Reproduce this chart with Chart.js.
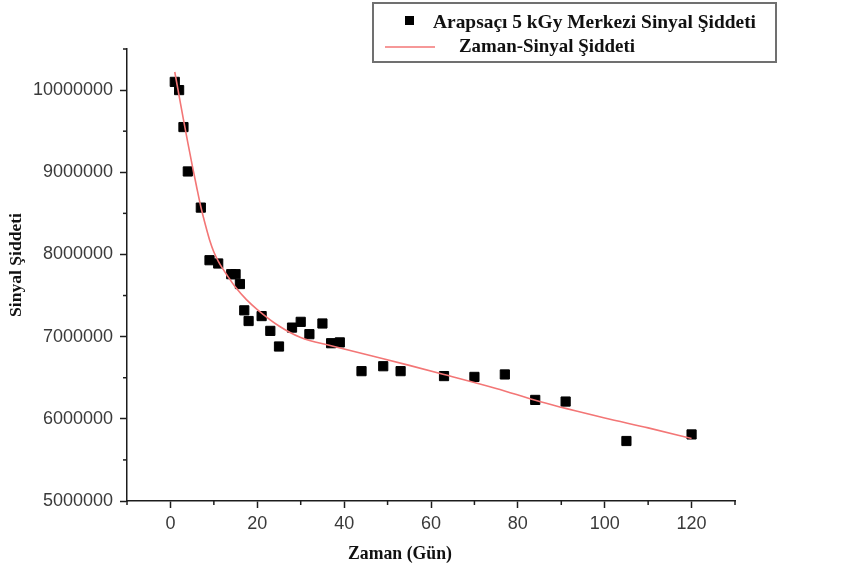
<!DOCTYPE html>
<html>
<head>
<meta charset="utf-8">
<script src="https://cdn.jsdelivr.net/npm/chart.js@4"></script>
<style>
    html, body { margin: 0; padding: 0; background: #fff; }
</style>
</head>
<body>
<canvas id="chart" width="842" height="568"></canvas>
<script>
// measured points (day, centre signal intensity)
var days = [1, 2, 3, 4, 7, 9, 11, 14, 15, 16, 17, 18, 21, 23, 25, 28, 30, 32, 35, 37, 39, 44, 49, 53, 63, 70, 77, 84, 91, 105, 120];
var signal = [10100000, 10000000, 9550000, 9010000, 8570000, 7930000, 7890000, 7760000, 7760000, 7640000, 7320000, 7190000,
    7250000, 7070000, 6880000, 7110000, 7180000, 7030000, 7160000, 6920000, 6930000, 6580000, 6640000, 6580000,
    6520000, 6510000, 6540000, 6230000, 6210000, 5730000, 5810000];

// fitted curve
var fitDays = [1, 2, 3, 4, 5, 6, 7, 8, 9, 10, 11, 12, 13, 15, 17.5, 20, 25, 30, 37, 46, 55, 63, 75, 85, 100, 110, 120];
var fitSignal = [10220000, 9930000, 9640000, 9360000, 9090000, 8830000, 8580000, 8370000, 8180000, 8030000, 7920000, 7830000,
    7750000, 7600000, 7450000, 7330000, 7130000, 6990000, 6890000, 6770000, 6650000, 6540000, 6370000, 6210000,
    6010000, 5890000, 5760000];

var xTickLabels = [0, 20, 40, 60, 80, 100, 120];
var yTickLabels = [5000000, 6000000, 7000000, 8000000, 9000000, 10000000];

var seriesLabel = 'Arapsaçı 5 kGy Merkezi Sinyal Şiddeti';
var fitLabel = 'Zaman-Sinyal Şiddeti';
var xTitle = 'Zaman (Gün)';
var yTitle = 'Sinyal Şiddeti';

var axisColor = '#1c1c1c';
var fitColor = '#f37676';
var serif = '"Liberation Serif", "Times New Roman", serif';

function toPoints(xs, ys) {
    return xs.map(function (x, i) { return { x: x, y: ys[i] }; });
}

// draws text squeezed/stretched to a given width
function fitText(ctx, text, x, y, width) {
    var w = ctx.measureText(text).width;
    ctx.save();
    ctx.translate(x, y);
    ctx.scale(width / w, 1);
    ctx.fillText(text, 0, 0);
    ctx.restore();
}

var extras = {
    id: 'extras',
    afterDraw: function (chart) {
        var ctx = chart.ctx;
        var xs = chart.scales.x, ys = chart.scales.y;
        ctx.save();

        //minor ticks
        ctx.strokeStyle = axisColor;
        ctx.lineWidth = 1.5;
        xs.ticks.forEach(function (t) {
            if (xTickLabels.indexOf(t.value) < 0) {
                var px = xs.getPixelForValue(t.value);
                ctx.beginPath();
                ctx.moveTo(px, xs.top);
                ctx.lineTo(px, xs.top + 4);
                ctx.stroke();
            }
        });
        ys.ticks.forEach(function (t) {
            if (yTickLabels.indexOf(t.value) < 0) {
                var py = ys.getPixelForValue(t.value);
                ctx.beginPath();
                ctx.moveTo(ys.right, py);
                ctx.lineTo(ys.right - 4, py);
                ctx.stroke();
            }
        });

        //axis titles
        ctx.fillStyle = '#111';
        ctx.font = 'bold 19px ' + serif;
        ctx.textBaseline = 'alphabetic';
        fitText(ctx, xTitle, 348, 559, 104);
        ctx.save();
        ctx.translate(21, 317);
        ctx.rotate(-Math.PI / 2);
        ctx.font = 'bold 17px ' + serif;
        fitText(ctx, yTitle, 0, 0, 104);
        ctx.restore();

        //legend box
        ctx.fillStyle = '#fff';
        ctx.fillRect(373, 3, 403, 59);
        ctx.strokeStyle = '#707070';
        ctx.lineWidth = 2;
        ctx.strokeRect(373, 3, 403, 59);

        var sets = chart.data.datasets;
        ctx.fillStyle = '#000';
        ctx.fillRect(405, 16, 9, 9);
        ctx.strokeStyle = fitColor;
        ctx.lineWidth = 1.6;
        ctx.beginPath();
        ctx.moveTo(385, 47);
        ctx.lineTo(435, 47);
        ctx.stroke();

        ctx.fillStyle = '#111';
        ctx.font = 'bold 19px ' + serif;
        fitText(ctx, sets[0].label, 433, 28, 323);
        fitText(ctx, sets[1].label, 459, 52, 176);

        ctx.restore();
    }
};

var majorTickColor = function (c) {
    return c.tick && (xTickLabels.indexOf(c.tick.value) >= 0 || yTickLabels.indexOf(c.tick.value) >= 0)
        ? axisColor : 'rgba(0,0,0,0)';
};

var tickFont = { family: '"Liberation Sans", Arial, sans-serif', size: 18 };

new Chart(document.getElementById('chart'), {
    type: 'scatter',
    data: {
        datasets: [{
            label: seriesLabel,
            data: toPoints(days, signal),
            pointStyle: 'rect',
            pointRadius: 6.5,
            backgroundColor: '#000',
            borderColor: '#000',
            borderWidth: 1,
            order: 1
        }, {
            label: fitLabel,
            data: toPoints(fitDays, fitSignal),
            showLine: true,
            pointRadius: 0,
            borderColor: fitColor,
            borderWidth: 1.6,
            cubicInterpolationMode: 'monotone',
            order: 0
        }]
    },
    options: {
        responsive: false,
        animation: false,
        layout: { padding: { top: 49, right: 107, left: 0, bottom: 0 } },
        plugins: {
            legend: { display: false },
            tooltip: { enabled: false }
        },
        scales: {
            x: {
                type: 'linear',
                min: -10,
                max: 130,
                afterFit: function (scale) { scale.height = 67; },
                border: { color: axisColor, width: 1.5 },
                grid: { drawOnChartArea: false, tickLength: 7, tickWidth: 1.5, tickColor: majorTickColor },
                ticks: {
                    stepSize: 10,
                    autoSkip: false,
                    maxRotation: 0,
                    padding: 5,
                    color: '#3a3a3a',
                    font: tickFont,
                    callback: function (v) { return xTickLabels.indexOf(v) >= 0 ? String(v) : ''; }
                }
            },
            y: {
                min: 5000000,
                max: 10500000,
                afterFit: function (scale) { scale.width = 127; },
                border: { color: axisColor, width: 1.5 },
                grid: { drawOnChartArea: false, tickLength: 7, tickWidth: 1.5, tickColor: majorTickColor },
                ticks: {
                    stepSize: 500000,
                    autoSkip: false,
                    padding: 7,
                    color: '#3a3a3a',
                    font: tickFont,
                    callback: function (v) { return yTickLabels.indexOf(v) >= 0 ? String(v) : ''; }
                }
            }
        }
    },
    plugins: [extras]
});
</script>
</body>
</html>
